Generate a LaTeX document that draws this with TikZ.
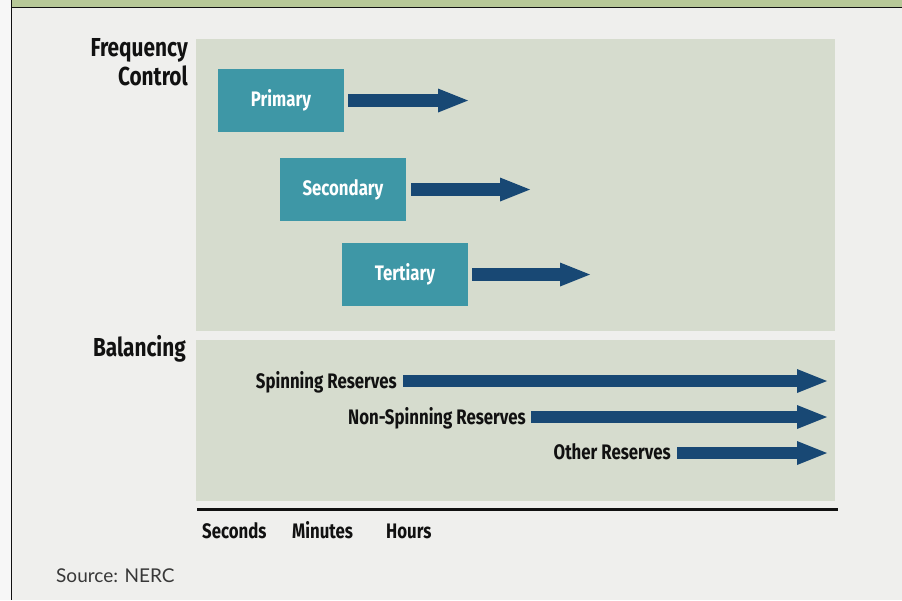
\documentclass[tikz,border=0pt]{standalone}
\usepackage{fontspec}
\setmainfont{Fira Sans}
\newfontfamily\condsans[FakeStretch=0.8]{Fira Sans}
\newfontfamily\srcfont{Lato}
\usetikzlibrary{arrows.meta}

\definecolor{pagebg}{HTML}{EFEFED}
\definecolor{edgebg}{HTML}{F7F7F7}
\definecolor{bandgreen}{HTML}{B7C898}
\definecolor{panelc}{HTML}{D6DCCE}
\definecolor{tealc}{HTML}{3E97A6}
\definecolor{navyc}{HTML}{184874}
\definecolor{inkc}{HTML}{111111}

\tikzset{
  panel/.style={fill=panelc, draw=none},
  stagebox/.style={fill=tealc, text=white, draw=none, inner sep=0pt,
    minimum width=126pt, minimum height=63pt,
    font=\condsans\bfseries\fontsize{21}{24}\selectfont},
  heading/.style={inner sep=0pt, text=inkc, align=right,
    font=\condsans\bfseries\fontsize{26}{29}\selectfont},
  reslabel/.style={inner sep=0pt, text=inkc,
    font=\condsans\bfseries\fontsize{21}{24}\selectfont},
  axislabel/.style={inner sep=0pt, text=inkc,
    font=\condsans\bfseries\fontsize{21}{24}\selectfont},
  flow/.style={draw=navyc, line width=12.5pt,
    -{Triangle[length=30pt,width=24pt,line width=0pt]}},
}

\begin{document}
\begin{tikzpicture}[x=1pt,y=-1pt]
  % page, left margin strip and header band
  \fill[pagebg] (0,0) rectangle (902,600);
  \useasboundingbox (0,0) rectangle (902,600);
  \fill[edgebg] (0,0) rectangle (11.5,600);
  \fill[bandgreen] (11.5,0) rectangle (902,7.5);
  \draw[inkc, line width=1.5pt] (11.5,7.5) -- (902,7.5);
  \draw[inkc, line width=1.5pt] (11.5,0) -- (11.5,600);

  % the two panels
  \fill[panel] (196,39) rectangle (835,331);
  \fill[panel] (196,340) rectangle (835,501);

  % panel headings
  \node[heading, anchor=north east] (freqlbl) at (188,38) {Frequency\\Control};
  \node[heading, anchor=base east] (ballbl) at (186,356) {Balancing};

  % frequency control stages
  \node[stagebox] (prim) at (281,100.5) {Primary};
  \node[stagebox] (sec)  at (343,189.5) {Secondary};
  \node[stagebox] (ter)  at (405,274.5) {Tertiary};
  \coordinate (primend) at (468,100.5);
  \coordinate (secend)  at (530,189.5);
  \coordinate (terend)  at (590,274.5);
  \draw[flow] ([xshift=4pt]prim.east) -- (primend);
  \draw[flow] ([xshift=5pt]sec.east) -- (secend);
  \draw[flow] ([xshift=4pt]ter.east) -- (terend);

  % balancing reserves
  \node[reslabel, anchor=base east] (spin)  at (397,388) {Spinning Reserves};
  \node[reslabel, anchor=base east] (nspin) at (526,424) {Non-Spinning Reserves};
  \node[reslabel, anchor=base east] (other) at (671,459) {Other Reserves};
  \coordinate (spinend)  at (827,381);
  \coordinate (nspinend) at (827,417);
  \coordinate (otherend) at (827,453);
  \draw[flow] (spin.east |- spinend) ++(6,0) -- (spinend);
  \draw[flow] (nspin.east |- nspinend) ++(5,0) -- (nspinend);
  \draw[flow] (other.east |- otherend) ++(6,0) -- (otherend);

  % time axis
  \coordinate (axl) at (197,509.5);
  \coordinate (axr) at (838,509.5);
  \draw[inkc, line width=2.5pt] (axl) -- (axr);
  \node[axislabel, anchor=base west] (tsec) at (202,538) {Seconds};
  \node[axislabel, anchor=base west] (tmin) at (292,538) {Minutes};
  \node[axislabel, anchor=base west] (thr)  at (386,538) {Hours};

  % source note
  \node[inner sep=0pt, anchor=base west, text=black!78,
        font=\srcfont\fontsize{19}{22}\selectfont] (src) at (56,582) {Source: NERC};
\end{tikzpicture}
\end{document}
